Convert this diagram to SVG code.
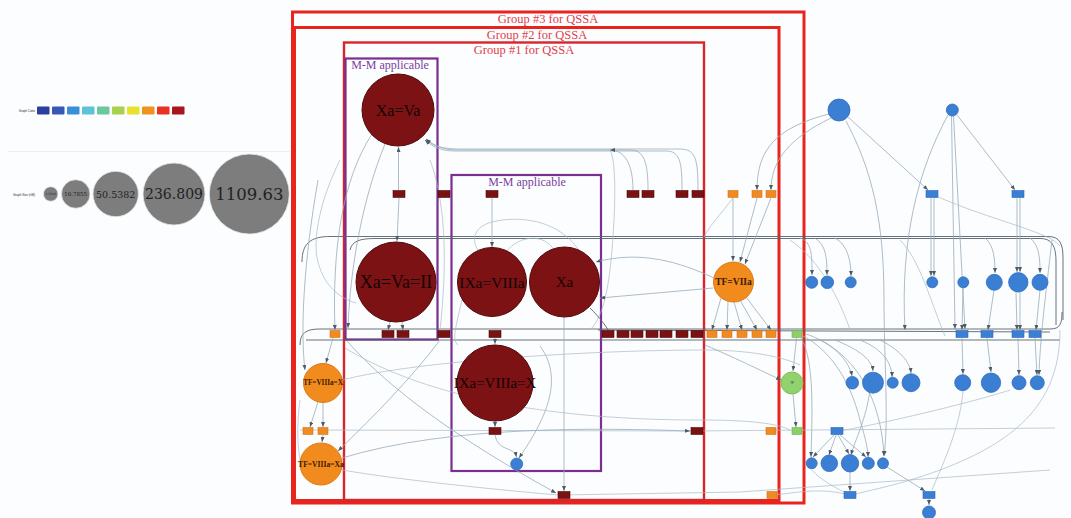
<svg xmlns="http://www.w3.org/2000/svg" width="1071" height="518" viewBox="0 0 1071 518">
  <defs>
    <marker id="a" markerUnits="userSpaceOnUse" markerWidth="5" markerHeight="4" refX="5" refY="2" orient="auto">
      <path d="M0,0 L5,2 L0,4 z" fill="#4e5b66"/>
    </marker>
    <style>
      .bg { fill: #fcfdfe; }
      .grp { fill: none; stroke: #e8241f; stroke-width: 3; }
      .grp1 { fill: none; stroke: #d8262a; stroke-width: 2.4; }
      .gt { font-family: "Liberation Serif", serif; font-size: 12.5px; fill: #e0404c; text-anchor: middle; }
      .mm { fill: none; stroke: #7a2e8e; stroke-width: 2.2; }
      .mt { font-family: "Liberation Serif", serif; font-size: 12px; fill: #7a3e9e; text-anchor: middle; }
      .e { fill: none; stroke: #98acbb; stroke-width: 0.8; marker-end: url(#a); }
      .ed { fill: none; stroke: #57626b; stroke-width: 0.9; }
      .el { fill: none; stroke: #a9bac6; stroke-width: 0.7; }
      .cr { fill: #7d1214; stroke: #4f0a0b; stroke-width: 1; }
      .co { fill: #f28b1d; stroke: #e07a12; stroke-width: 1; }
      .cg { fill: #92d26e; stroke: #7cc05a; stroke-width: 1; }
      .cb { fill: #3a7fd3; stroke: #2e6cbc; stroke-width: 0.8; }
      .rr { fill: #7a1113; stroke: #4f0a0b; stroke-width: 0.6; }
      .ro { fill: #f08a22; stroke: #d57412; stroke-width: 0.6; }
      .rg { fill: #8ccf6a; stroke: #6fb64e; stroke-width: 0.6; }
      .rb { fill: #3b7fd4; stroke: #2c68b6; stroke-width: 0.6; }
      .big { font-family: "Liberation Serif", serif; fill: #140404; text-anchor: middle; dominant-baseline: central; }
      .ot { font-family: "Liberation Serif", serif; font-weight: bold; fill: #3a1a04; text-anchor: middle; dominant-baseline: central; }
      .tiny { font-family: "Liberation Sans", sans-serif; font-size: 3px; fill: #2a2a2a; text-anchor: middle; dominant-baseline: central; }
      .lg { font-family: "DejaVu Serif", serif; fill: #222; text-anchor: middle; dominant-baseline: central; }
    </style>
  </defs>

  <rect class="bg" x="0" y="0" width="1071" height="518"/>

  <!-- colour legend -->
  <g id="legend-color">
    <text x="27" y="111" class="tiny" fill="#556">Graph Color</text>
    <rect x="37" y="106.5" width="12.5" height="8" rx="1" fill="#2c3f9e"/>
    <rect x="52" y="106.5" width="12.5" height="8" rx="1" fill="#3858b8"/>
    <rect x="67" y="106.5" width="12.5" height="8" rx="1" fill="#3b8fd6"/>
    <rect x="82" y="106.5" width="12.5" height="8" rx="1" fill="#5cc3d8"/>
    <rect x="97" y="106.5" width="12.5" height="8" rx="1" fill="#6cc89a"/>
    <rect x="112" y="106.5" width="12.5" height="8" rx="1" fill="#a8d14e"/>
    <rect x="127" y="106.5" width="12.5" height="8" rx="1" fill="#e9e22a"/>
    <rect x="142" y="106.5" width="12.5" height="8" rx="1" fill="#f0921e"/>
    <rect x="157" y="106.5" width="12.5" height="8" rx="1" fill="#e83322"/>
    <rect x="172" y="106.5" width="12.5" height="8" rx="1" fill="#a8161e"/>
  </g>
  <line x1="8" y1="151.5" x2="290" y2="151.5" stroke="#eceff2" stroke-width="1"/>

  <!-- size legend -->
  <g id="legend-size">
    <text x="24" y="194.5" class="tiny" fill="#556">Graph Size (nM)</text>
    <circle cx="50.7" cy="194" r="7.3" fill="#7d7d7d" stroke="#e8e8e8" stroke-width="0.8"/>
    <text x="50.7" y="194" class="lg" font-size="3px">2.3016</text>
    <circle cx="75.7" cy="194" r="14.3" fill="#7d7d7d" stroke="#e8e8e8" stroke-width="0.8"/>
    <text x="75.7" y="194" class="lg" font-size="5.5px">10.7855</text>
    <circle cx="115.7" cy="194" r="22.7" fill="#7d7d7d" stroke="#e8e8e8" stroke-width="0.8"/>
    <text x="115.7" y="194" class="lg" font-size="9.5px">50.5382</text>
    <circle cx="174" cy="194" r="31" fill="#7d7d7d" stroke="#e8e8e8" stroke-width="0.8"/>
    <text x="174" y="194" class="lg" font-size="14px">236.809</text>
    <circle cx="249.3" cy="194" r="40" fill="#7d7d7d" stroke="#e8e8e8" stroke-width="0.8"/>
    <text x="249.3" y="194" class="lg" font-size="16.5px">1109.63</text>
  </g>

  <!-- QSSA groups and M-M boxes -->
  <g id="group3">
    <rect class="grp" x="292.5" y="12" width="511.5" height="491"/>
    <text class="gt" x="548" y="22.5">Group #3 for QSSA</text>
  </g>
  <g id="group2">
    <rect class="grp" x="294.5" y="27.5" width="484.5" height="473"/>
    <text class="gt" x="537" y="38.5">Group #2 for QSSA</text>
  </g>
  <g id="group1">
    <rect class="grp1" x="344" y="42.5" width="360" height="457.5"/>
    <text class="gt" x="524" y="53.5">Group #1 for QSSA</text>
  </g>
  <g id="mm1">
    <rect class="mm" x="345.5" y="58.5" width="92" height="281"/>
    <text class="mt" x="390" y="68.5">M-M applicable</text>
  </g>
  <g id="mm2">
    <rect class="mm" x="451.5" y="175" width="149.5" height="296"/>
    <text class="mt" x="527" y="185.5">M-M applicable</text>
  </g>

  <!-- connectors -->
  <g id="edges">
    <!-- long dark bundles -->
    <path class="ed" d="M302 262 C302 244 310 236.5 330 236.5 L1048 236.5 C1060 236.5 1063 244 1063 258 L1063 320"/>
    <path class="ed" d="M350 250 C352 241 360 238.5 375 238.5 L1040 238.5 C1052 238.5 1056 246 1056 262 L1056 325"/>
    <path class="ed" d="M300 345 C300 333 306 329 320 329 L1050 329 C1060 329 1062 324 1062 312"/>
    <path class="ed" d="M306 340 L1060 340"/>
    <path class="ed" d="M598 330 L1050 332"/>
    <path class="el" d="M300 430 L690 431 L1055 428"/>
    <path class="el" d="M342 470 C400 480 500 490 558 495 L740 492 L1050 470"/>

    <!-- Xa=Va links -->
    <path class="e" d="M398.5 190 L398.5 147"/>
    <path class="e" d="M399 198 L397 241"/>
    <path class="e" d="M372 134 C342 180 332 250 335 330"/>
    <path class="e" d="M385 144 C362 200 350 270 348 328"/>
    <path class="e" d="M698 190 C698 160 696 149 680 149 L460 149 C440 149 432 145 426 139"/>
    <path class="e" d="M682 190 C682 162 680 151 666 151 L455 151 C440 151 432 146 425 140"/>
    <path class="e" d="M648 190 C648 162 644 150 630 150 L458 150 C442 150 433 145 426 139"/>
    <path class="e" d="M633 190 C633 165 625 150 610 150"/>
    <path class="el" d="M610 150 C616 160 616 200 612 250 C608 300 600 320 590 330"/>

    <!-- M-M box 2 -->
    <path class="e" d="M492 198 L492 247"/>
    <path class="e" d="M495 338 L495 344"/>
    <path class="e" d="M495 421 L495 427"/>
    <path class="e" d="M495 435 C498 452 514 446 516.5 457"/>
    <path class="e" d="M540 346 C565 380 545 420 519 458"/>
    <path class="e" d="M564 317 L564 491"/>
    <path class="el" d="M506 252 C520 234 545 234 554 250"/>
    <path class="el" d="M478 250 C470 238 476 226 492 222 C520 215 560 220 580 252"/>
    <path class="el" d="M462 300 C455 330 452 340 458 345"/>
    <path class="ed" d="M590 308 C600 318 606 326 608 330"/>
    <path class="e" d="M713 288 L600 298"/>
    <path class="e" d="M714 278 C680 262 640 250 596 262"/>

    <!-- Xa=Va=II and left orange nodes -->
    <path class="e" d="M390 322 L388 330"/>
    <path class="e" d="M402 322 L403 330"/>
    <path class="e" d="M333 338 L326 363"/>
    <path class="e" d="M318 402 L310 427"/>
    <path class="e" d="M323 402 L323 427"/>
    <path class="e" d="M323 435 L322 442"/>
    <path class="e" d="M440 340 C410 380 370 420 338 451"/>
    <path class="e" d="M347 341 C390 390 460 440 556 493"/>
    <path class="e" d="M342 458 C450 425 600 428 690 431"/>
    <path class="e" d="M318 180 C304 260 300 330 305 370"/>
    <path class="el" d="M340 160 C320 200 312 240 318 262 C325 290 345 300 356 303"/>
    <path class="el" d="M300 400 C296 430 298 455 302 468"/>
    <path class="el" d="M430 160 C445 200 448 260 440 330"/>
    <path class="el" d="M342 380 C420 360 600 350 704 350 C760 350 790 360 800 365"/>
    <path class="el" d="M345 348 C430 400 560 420 700 420 C760 420 780 425 790 430"/>

    <!-- TF=VIIa -->
    <path class="e" d="M733 198 L733 261"/>
    <path class="e" d="M757 198 L740 262"/>
    <path class="e" d="M771 198 L745 264"/>
    <path class="e" d="M721 298 L712 330"/>
    <path class="e" d="M728 301 L727 330"/>
    <path class="e" d="M734 302 L742 330"/>
    <path class="e" d="M740 300 L757 330"/>
    <path class="e" d="M746 297 L771 330"/>
    <path class="el" d="M733 198 C720 215 710 225 704 237"/>

    <!-- upper blue nodes -->
    <path class="e" d="M829 114 C775 128 757 150 757 190"/>
    <path class="e" d="M831 118 C790 138 771 160 771 190"/>
    <path class="e" d="M848 117 L928 190"/>
    <path class="e" d="M846 121 C872 170 884 220 884 300 C884 360 889 420 884 456"/>
    <path class="e" d="M948 115 C918 170 900 240 905 330"/>
    <path class="e" d="M951.5 116 L955 329"/>
    <path class="e" d="M953.5 116 L965 329"/>
    <path class="e" d="M957 115 L1015 190"/>
    <path class="e" d="M931 198 L931 276"/>
    <path class="e" d="M934 198 L934 276"/>
    <path class="e" d="M1017 198 L1017 272"/>
    <path class="e" d="M1020 198 L1020 272"/>
    <path class="el" d="M936 196 C990 220 1050 232 1060 246"/>

    <!-- curves dropping from the bundle -->
    <path class="e" d="M800 238 C812 242 812 255 812 275"/>
    <path class="e" d="M815 238 C826 245 827 258 827 275"/>
    <path class="e" d="M835 238 C848 245 851 262 851 276"/>
    <path class="e" d="M985 238 C994 245 995 260 995 273"/>
    <path class="e" d="M1030 238 C1040 245 1040 262 1040 273"/>
    <path class="el" d="M790 240 C820 260 840 300 850 330"/>
    <path class="el" d="M900 240 C920 260 930 300 945 336"/>

    <!-- row of blue rects and circles on the right -->
    <path class="e" d="M963 288 L962 330"/>
    <path class="e" d="M994 290 L988 330"/>
    <path class="e" d="M1016 292 L1017 330"/>
    <path class="e" d="M1020 292 L1020 330"/>
    <path class="e" d="M1040 290 L1036 330"/>
    <path class="e" d="M962 338 L963 374"/>
    <path class="e" d="M987 338 L991 372"/>
    <path class="e" d="M1018 338 L1019 375"/>
    <path class="e" d="M1035 338 L1037 375"/>
    <path class="e" d="M1052 240 C1045 300 1040 340 1039 375"/>
    <path class="e" d="M820 340 C840 350 850 365 852 376"/>
    <path class="e" d="M835 340 C860 350 872 360 873 371"/>
    <path class="e" d="M860 340 C885 350 892 365 892 377"/>
    <path class="e" d="M880 340 C900 350 910 362 911 373"/>

    <!-- green TF -->
    <path class="e" d="M796.5 338 L793 371"/>
    <path class="e" d="M793 394 L796 427"/>
    <path class="e" d="M705 345 C740 360 768 374 781 380"/>

    <!-- lower right -->
    <path class="e" d="M834 435 L813 457"/>
    <path class="e" d="M836 435 L829 455"/>
    <path class="e" d="M838 435 L849 454"/>
    <path class="e" d="M840 435 L866 457"/>
    <path class="e" d="M801 338 C815 360 812 420 811 457"/>
    <path class="e" d="M803 336 C830 350 850 380 860 420 C866 440 868 450 868 457"/>
    <path class="e" d="M806 334 C840 345 880 380 884 456"/>
    <path class="e" d="M870 390 C866 420 855 440 851 455"/>
    <path class="e" d="M850 472 L850 491"/>
    <path class="e" d="M887 467 L925 491"/>
    <path class="e" d="M929 499 L929 505"/>
    <path class="el" d="M812 470 C820 480 840 490 846 493"/>
    <path class="el" d="M963 391 C960 430 940 470 932 490"/>
    <path class="el" d="M1060 330 C1060 400 1020 440 940 470 C900 485 870 490 856 494"/>
    <path class="el" d="M775 495 C800 492 820 488 845 494"/>
    <path class="el" d="M840 431 C900 420 980 400 1010 390"/>
  </g>

  <!-- reaction nodes -->
  <g id="r-row1">
    <rect class="rr" x="393" y="190.5" width="12" height="7"/>
    <rect class="rr" x="438" y="190.5" width="12" height="7"/>
    <rect class="rr" x="486" y="190.5" width="12" height="7"/>
    <rect class="rr" x="627" y="190.5" width="12" height="7"/>
    <rect class="rr" x="642" y="190.5" width="12" height="7"/>
    <rect class="rr" x="676" y="190.5" width="12" height="7"/>
    <rect class="rr" x="692" y="190.5" width="12" height="7"/>
    <rect class="ro" x="728" y="190.5" width="10" height="7"/>
    <rect class="ro" x="752" y="190.5" width="10" height="7"/>
    <rect class="ro" x="766" y="190.5" width="10" height="7"/>
    <rect class="rb" x="926" y="190.5" width="12" height="7"/>
    <rect class="rb" x="1012" y="190.5" width="12" height="7"/>
  </g>
  <g id="r-row2">
    <rect class="ro" x="330" y="330.5" width="10" height="7"/>
    <rect class="rr" x="382" y="330.5" width="12" height="7"/>
    <rect class="rr" x="397" y="330.5" width="12" height="7"/>
    <rect class="rr" x="438" y="330.5" width="12" height="7"/>
    <rect class="rr" x="489" y="330.5" width="12" height="7"/>
    <rect class="rr" x="602" y="330.5" width="12" height="7"/>
    <rect class="rr" x="617" y="330.5" width="12" height="7"/>
    <rect class="rr" x="631" y="330.5" width="12" height="7"/>
    <rect class="rr" x="646" y="330.5" width="12" height="7"/>
    <rect class="rr" x="660" y="330.5" width="12" height="7"/>
    <rect class="rr" x="676" y="330.5" width="12" height="7"/>
    <rect class="rr" x="691" y="330.5" width="12" height="7"/>
    <rect class="ro" x="707" y="330.5" width="10" height="7"/>
    <rect class="ro" x="722" y="330.5" width="10" height="7"/>
    <rect class="ro" x="737" y="330.5" width="10" height="7"/>
    <rect class="ro" x="752" y="330.5" width="10" height="7"/>
    <rect class="ro" x="766" y="330.5" width="10" height="7"/>
    <rect class="rg" x="792" y="330.5" width="10" height="7"/>
    <rect class="rb" x="956" y="330.5" width="12" height="7"/>
    <rect class="rb" x="981" y="330.5" width="12" height="7"/>
    <rect class="rb" x="1012" y="330.5" width="12" height="7"/>
    <rect class="rb" x="1029" y="330.5" width="12" height="7"/>
  </g>
  <g id="r-row3">
    <rect class="ro" x="303" y="427.5" width="10" height="7"/>
    <rect class="ro" x="318" y="427.5" width="10" height="7"/>
    <rect class="rr" x="489" y="427.5" width="12" height="7"/>
    <rect class="rr" x="691" y="427.5" width="12" height="7"/>
    <rect class="ro" x="766" y="427.5" width="10" height="7"/>
    <rect class="rg" x="792" y="427.5" width="10" height="7"/>
    <rect class="rb" x="831" y="427.5" width="12" height="7"/>
  </g>
  <g id="r-row4">
    <rect class="rr" x="558" y="491.5" width="12" height="7"/>
    <rect class="ro" x="767" y="491.5" width="10" height="7"/>
    <rect class="rb" x="844" y="491.5" width="12" height="7"/>
    <rect class="rb" x="923" y="491.5" width="12" height="7"/>
  </g>

  <!-- species nodes -->
  <g id="n-xa-va">
    <circle class="cr" cx="398" cy="110" r="36"/>
    <text class="big" x="398" y="110" font-size="16px">Xa=Va</text>
  </g>
  <g id="n-xa-va-ii">
    <circle class="cr" cx="396" cy="282" r="40"/>
    <text class="big" x="396" y="282" font-size="18px">Xa=Va=II</text>
  </g>
  <g id="n-ixa-viiia">
    <circle class="cr" cx="492" cy="282" r="34.5"/>
    <text class="big" x="492" y="282" font-size="15.5px">IXa=VIIIa</text>
  </g>
  <g id="n-xa">
    <circle class="cr" cx="564.5" cy="282" r="35"/>
    <text class="big" x="564.5" y="282" font-size="15px">Xa</text>
  </g>
  <g id="n-ixa-viiia-x">
    <circle class="cr" cx="495" cy="383" r="38"/>
    <text class="big" x="495" y="383" font-size="15px">IXa=VIIIa=X</text>
  </g>
  <g id="n-tf-viiia-x">
    <circle class="co" cx="323" cy="383" r="19.5"/>
    <text class="ot" x="323" y="383" font-size="7.2px">TF=VIIIa=X</text>
  </g>
  <g id="n-tf-viiia-xa">
    <circle class="co" cx="321" cy="464" r="21"/>
    <text class="ot" x="321" y="464" font-size="7.6px">TF=VIIIa=Xa</text>
  </g>
  <g id="n-tf-viia">
    <circle class="co" cx="733.5" cy="282" r="20"/>
    <text class="ot" x="733.5" y="282" font-size="9.5px">TF=VIIa</text>
  </g>
  <g id="n-tf">
    <circle class="cg" cx="792" cy="383" r="11"/>
    <text class="tiny" x="792" y="383">TF</text>
  </g>
  <g id="n-blue">
    <circle class="cb" cx="839" cy="110" r="11"/>
    <circle class="cb" cx="952.3" cy="110" r="6"/>
    <circle class="cb" cx="516.7" cy="464" r="6"/>
    <circle class="cb" cx="811.7" cy="282.3" r="6"/>
    <circle class="cb" cx="827.3" cy="282.3" r="6.3"/>
    <circle class="cb" cx="850.7" cy="282.3" r="5.5"/>
    <circle class="cb" cx="932.3" cy="282.3" r="5.5"/>
    <circle class="cb" cx="963.3" cy="282.3" r="5.5"/>
    <circle class="cb" cx="994.3" cy="282.3" r="8"/>
    <circle class="cb" cx="1018.3" cy="282.3" r="9.7"/>
    <circle class="cb" cx="1040" cy="282.3" r="8"/>
    <circle class="cb" cx="852.3" cy="382.7" r="6.3"/>
    <circle class="cb" cx="873" cy="382.7" r="10.5"/>
    <circle class="cb" cx="892.7" cy="382.7" r="5.5"/>
    <circle class="cb" cx="911" cy="382.7" r="9"/>
    <circle class="cb" cx="962.7" cy="382.7" r="8"/>
    <circle class="cb" cx="991" cy="382.7" r="9.7"/>
    <circle class="cb" cx="1019" cy="382.7" r="7"/>
    <circle class="cb" cx="1037.3" cy="382.7" r="7"/>
    <circle class="cb" cx="811.7" cy="463.3" r="5.5"/>
    <circle class="cb" cx="829.3" cy="463.3" r="8.3"/>
    <circle class="cb" cx="850" cy="463.3" r="8.7"/>
    <circle class="cb" cx="868.3" cy="463.3" r="6"/>
    <circle class="cb" cx="883" cy="463.3" r="5.5"/>
    <circle class="cb" cx="929" cy="512.5" r="6.5"/>
  </g>
</svg>
